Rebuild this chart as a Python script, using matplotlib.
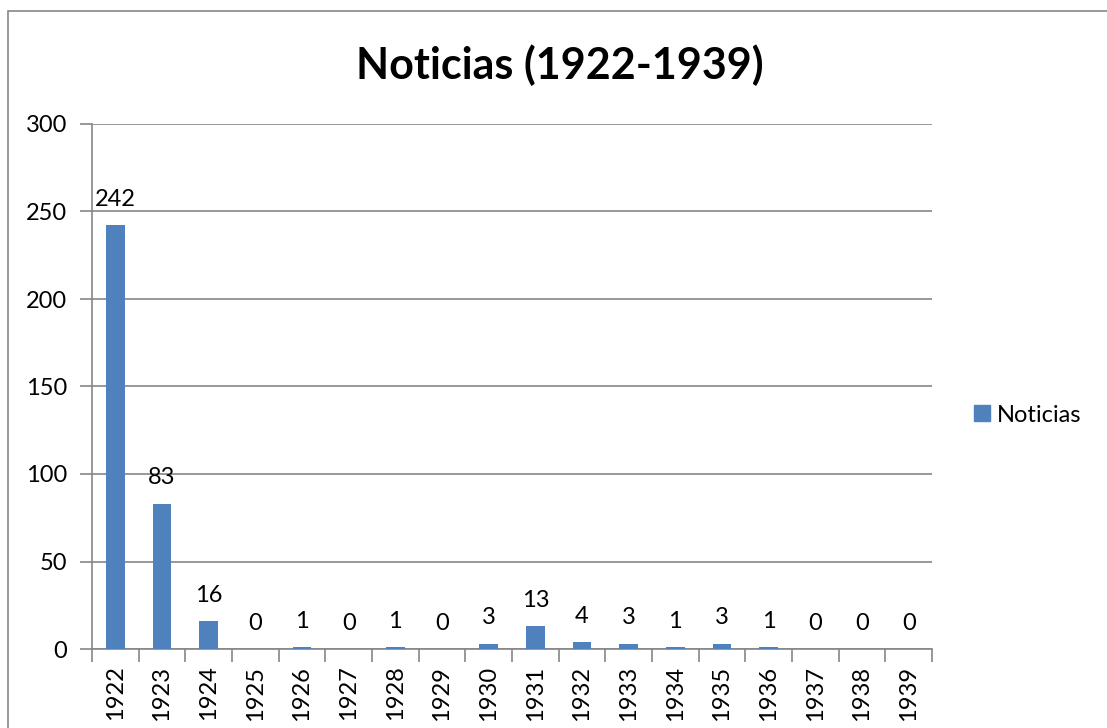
import matplotlib
matplotlib.use("Agg")
import matplotlib.pyplot as plt
from matplotlib.patches import Rectangle, Patch
import numpy as np

plt.rcParams['font.family'] = ['Lato', 'DejaVu Sans']

years = ['1922', '1923', '1924', '1925', '1926', '1927', '1928', '1929', '1930',
         '1931', '1932', '1933', '1934', '1935', '1936', '1937', '1938', '1939']
noticias = [242, 83, 16, 0, 1, 0, 1, 0, 3, 13, 4, 3, 1, 3, 1, 0, 0, 0]

W, H = 1107, 728
fig = plt.figure(figsize=(W / 100, H / 100), dpi=100)
ax = fig.add_axes([92 / W, 1 - 649 / H, (932 - 92) / W, (649 - 124) / H])

blue = '#4F81BD'
grey = '#868686'
x = np.arange(len(years))
bars = ax.bar(x, noticias, width=0.4, color=blue, zorder=3)

for xi, v in zip(x, noticias):
    ax.annotate(str(v), (xi, v), xytext=(0, 11), textcoords='offset points',
                ha='center', va='bottom', fontsize=17)

ax.set_xlim(-0.5, len(years) - 0.5)
ax.set_ylim(0, 300)
ax.set_yticks(range(0, 301, 50))
ax.yaxis.grid(True, color=grey, linewidth=1.2, zorder=0)
ax.set_axisbelow(True)
ax.tick_params(axis='y', direction='out', length=9, width=1.2, color=grey,
               labelsize=17, pad=9)

ax.set_xticks(x)
ax.set_xticklabels(years, rotation=90, fontsize=17)
ax.set_xticks(np.arange(-0.5, len(years)), minor=True)
ax.tick_params(axis='x', which='major', length=0, pad=12)
ax.tick_params(axis='x', which='minor', direction='out', length=9, width=1.2, color=grey)

for s in ['top', 'right']:
    ax.spines[s].set_visible(False)
for s in ['left', 'bottom']:
    ax.spines[s].set_color(grey)
    ax.spines[s].set_linewidth(1.2)

fig.text(560 / W, 1 - 65 / H, 'Noticias (1922-1939)', ha='center', va='center',
         fontsize=31, fontweight='bold')

fig.legend(handles=[Patch(color=blue, label='Noticias')], loc='center left',
           bbox_to_anchor=(953 / W, 1 - 415 / H), frameon=False, fontsize=17,
           handlelength=0.65, handleheight=0.65, handletextpad=0.3)

fig.patches.append(Rectangle((8 / W, -0.1), 1.1, 1 - 11 / H + 0.1,
                             transform=fig.transFigure, fill=False,
                             edgecolor=grey, linewidth=1.2))

fig.savefig('out.png', dpi=100)
